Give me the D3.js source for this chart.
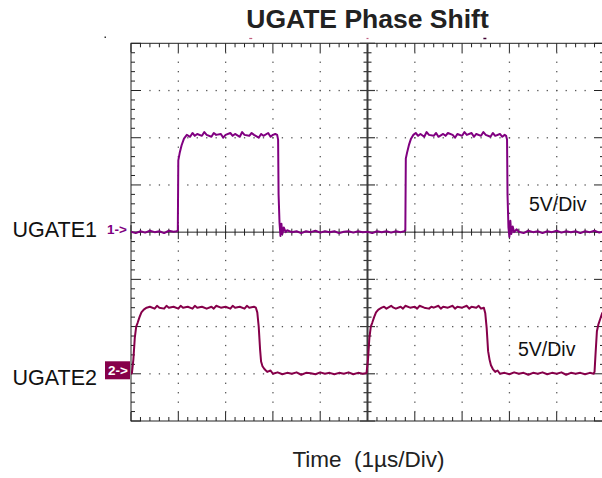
<!DOCTYPE html>
<html><head><meta charset="utf-8">
<script src="https://cdn.jsdelivr.net/npm/d3@7"></script>
<style>html,body{margin:0;padding:0;background:#fff;}svg{display:block;}</style>
</head><body>
<svg id="chart" width="602" height="478"></svg>
<script>
// ---- data ----
const title = "UGATE Phase Shift";
const xLabel = "Time\u00A0 (1\u00B5s/Div)";
const channelNames = ["UGATE1", "UGATE2"];
const channelMarkers = ["1->", "2->"];
const scaleLabels = ["5V/Div", "5V/Div"];
const voltsPerDiv = 5;
const channelOffsetsDiv = [0, -3];      // ground reference of each channel, in divisions from centre
const timeDivs = [0, 10];               // µs
const voltDivs = [-4, 4];               // divisions
// UGATE1 trace: [time µs, volts]
const ch1 = [
 [0,0.05],[0.1,-0.1],[0.2,0.1],[0.3,-0.05],[0.4,0.15],[0.5,0],[0.6,0.1],[0.7,-0.1],[0.8,0.15],[0.9,0.05],[0.97,0.1],
 [0.99,0.2],[1.0,7.6],[1.03,8.4],[1.07,9.2],[1.12,9.9],[1.18,10.3],
 [1.25,10.1],[1.3,10.5],[1.35,10.2],[1.4,10.4],[1.5,10.2],[1.55,10.6],[1.6,10.3],[1.7,10.1],[1.75,10.5],[1.8,10.3],[1.9,10.4],[1.95,10.0],[2.0,10.3],[2.1,10.5],[2.15,10.2],[2.2,10.4],[2.3,10.1],[2.35,10.6],[2.4,10.3],[2.5,10.2],[2.55,10.5],[2.6,10.3],[2.7,10.0],[2.75,10.4],[2.8,10.2],[2.9,10.5],[2.95,10.1],[3.0,10.3],[3.05,10.4],[3.09,10.3],
 [3.11,9.8],[3.12,4.0],[3.14,1.0],[3.16,-0.4],[3.18,0.9],[3.2,-0.2],[3.23,0.5],[3.27,0.0],[3.3,0.2],
 [3.4,0.0],[3.5,0.1],[3.6,-0.1],[3.7,0.1],[3.8,0.0],[3.9,0.15],[4.0,-0.05],[4.1,0.1],[4.2,0.0],[4.3,0.1],[4.4,-0.1],[4.5,0.05],[4.6,0.1],[4.7,-0.05],[4.8,0.1],[4.9,0.0],[5.0,0.05],[5.1,-0.1],[5.2,0.1],[5.3,0.0],[5.4,0.1],[5.5,-0.05],[5.6,0.1],[5.7,0.0],[5.78,0.1],
 [5.8,0.2],[5.81,7.8],[5.84,8.5],[5.88,9.3],[5.92,9.9],[5.97,10.3],
 [6.02,10.5],[6.07,10.2],[6.12,10.4],[6.2,10.1],[6.25,10.6],[6.3,10.3],[6.4,10.2],[6.45,10.5],[6.5,10.1],[6.6,10.4],[6.65,10.2],[6.7,10.5],[6.8,10.3],[6.85,10.0],[6.9,10.4],[7.0,10.2],[7.05,10.6],[7.1,10.3],[7.2,10.5],[7.25,10.1],[7.3,10.4],[7.4,10.2],[7.45,10.6],[7.5,10.3],[7.6,10.1],[7.65,10.5],[7.7,10.2],[7.8,10.4],[7.85,10.1],[7.9,10.3],[7.93,10.2],
 [7.95,9.8],[7.96,4.0],[7.98,0.5],[8.0,-0.5],[8.02,1.2],[8.04,-0.2],[8.07,0.6],[8.1,0.0],[8.15,0.3],
 [8.2,0.05],[8.3,-0.1],[8.4,0.15],[8.5,0.0],[8.6,0.1],[8.7,-0.1],[8.8,0.1],[8.9,0.0],[9.0,0.15],[9.1,-0.05],[9.2,0.1],[9.3,0.0],[9.4,0.1],[9.5,-0.1],[9.6,0.1],[9.7,0.0],[9.8,0.15],[9.9,-0.05],[10,0.1]
];
// UGATE2 trace: [time µs, volts]
const ch2 = [
 [0,-0.05],[0.02,0.1],[0.05,1.5],[0.08,3.8],[0.11,5.0],[0.14,5.4],[0.18,6.0],[0.22,6.5],[0.27,6.8],[0.33,7.0],
 [0.4,7.1],[0.5,6.9],[0.55,7.2],[0.6,7.0],[0.7,6.9],[0.75,7.2],[0.8,7.0],[0.9,7.1],[1.0,6.9],[1.05,7.2],[1.1,7.0],[1.2,7.1],[1.3,6.9],[1.35,7.2],[1.4,7.0],[1.5,7.1],[1.6,6.9],[1.7,7.1],[1.75,6.9],[1.8,7.2],[1.9,7.0],[2.0,7.1],[2.1,6.9],[2.15,7.2],[2.2,7.0],[2.3,7.1],[2.4,6.9],[2.45,7.2],[2.5,7.0],[2.6,7.1],[2.64,7.0],
 [2.67,6.5],[2.7,5.0],[2.73,2.5],[2.75,1.3],[2.78,0.8],[2.82,0.5],[2.88,0.2],[2.95,0.35],[3.0,0.0],
 [3.1,0.15],[3.2,-0.05],[3.3,0.1],[3.4,0.0],[3.5,0.15],[3.6,-0.1],[3.7,0.1],[3.8,0.05],[3.9,-0.05],[4.0,0.15],[4.1,0.0],[4.2,0.1],[4.3,-0.05],[4.4,0.1],[4.5,0.0],[4.6,0.15],[4.7,-0.05],[4.8,0.1],[4.9,0.0],[4.96,0.05],
 [4.98,0.1],[5.01,1.5],[5.04,3.8],[5.07,5.0],[5.1,5.4],[5.14,6.0],[5.18,6.5],[5.23,6.8],[5.3,7.0],
 [5.35,7.1],[5.4,6.9],[5.5,7.2],[5.55,7.0],[5.6,6.9],[5.7,7.1],[5.75,6.9],[5.8,7.2],[5.9,7.0],[6.0,7.1],[6.05,6.9],[6.1,7.2],[6.2,7.0],[6.3,6.9],[6.35,7.1],[6.4,7.0],[6.5,7.2],[6.55,6.9],[6.6,7.1],[6.7,7.0],[6.8,7.2],[6.85,6.9],[6.9,7.1],[7.0,7.0],[7.1,7.2],[7.15,6.9],[7.2,7.1],[7.3,7.0],[7.35,7.2],[7.4,6.9],[7.46,7.0],
 [7.49,6.4],[7.52,4.8],[7.55,2.4],[7.58,1.5],[7.61,0.9],[7.65,0.5],[7.7,0.2],[7.75,0.35],[7.8,0.0],
 [7.9,0.1],[8.0,-0.05],[8.1,0.15],[8.2,0.0],[8.3,0.1],[8.4,-0.1],[8.5,0.1],[8.6,0.0],[8.7,0.15],[8.8,-0.05],[8.9,0.1],[9.0,0.0],[9.1,0.15],[9.2,-0.1],[9.3,0.1],[9.4,0.0],[9.5,0.1],[9.6,-0.05],[9.7,0.1],[9.78,0.0],
 [9.8,0.2],[9.82,2.0],[9.85,4.5],[9.88,5.2],[9.92,5.8],[9.96,6.4],[10,6.7]
];

// ---- drawing ----
const svg = d3.select("#chart");
const FONT = "'Liberation Sans', Arial, Helvetica, sans-serif";
const x = d3.scaleLinear().domain(timeDivs).range([131, 604]);
const y = d3.scaleLinear().domain(voltDivs).range([421, 43.3]);
const colors = ["#800080", "#86004a"];
const gridCol = "#555";

const minorT = d3.range(timeDivs[0], timeDivs[1] + 0.001, 0.2).map(v => +v.toFixed(2));
const minorV = d3.range(voltDivs[0], voltDivs[1] + 0.001, 0.2).map(v => +v.toFixed(2));
const isMajor = v => Math.abs(v - Math.round(v)) < 1e-6;

const g = svg.append("g");

// dotted grid
const dots = g.append("g").attr("fill", gridCol);
d3.range(1, 10).filter(t => t !== 5).forEach(t => {
  minorV.filter(v => v > voltDivs[0] && v < voltDivs[1]).forEach(v => {
    dots.append("rect").attr("x", x(t) - 0.6).attr("y", y(v) - 0.6).attr("width", 1.3).attr("height", 1.3);
  });
});
d3.range(-3, 4).filter(v => v !== 0).forEach(v => {
  minorT.filter(t => t > 0.3 && t < 9.8).forEach(t => {
    dots.append("rect").attr("x", x(t) - 0.6).attr("y", y(v) - 0.6).attr("width", 1.3).attr("height", 1.3);
  });
});

// border
const frame = g.append("g").attr("stroke", "#222").attr("stroke-width", 1).attr("fill", "none");
frame.append("rect").attr("x", x(0)).attr("y", y(4)).attr("width", x(10) - x(0)).attr("height", y(-4) - y(4));
minorT.forEach(t => {
  const L = isMajor(t) ? 9 : 4;
  frame.append("line").attr("x1", x(t)).attr("x2", x(t)).attr("y1", y(4)).attr("y2", y(4) + L);
  frame.append("line").attr("x1", x(t)).attr("x2", x(t)).attr("y1", y(-4)).attr("y2", y(-4) - L);
});
minorV.forEach(v => {
  const L = isMajor(v) ? 10 : 4;
  frame.append("line").attr("x1", x(0)).attr("x2", x(0) + L).attr("y1", y(v)).attr("y2", y(v));
  frame.append("line").attr("x1", x(10)).attr("x2", x(10) - L).attr("y1", y(v)).attr("y2", y(v));
});

// centre axes
const cx = g.append("g").attr("fill", "none");
cx.append("line").attr("x1", x(0)).attr("x2", x(10)).attr("y1", y(0)).attr("y2", y(0)).attr("stroke", "#222");
minorT.forEach(t => {
  const L = isMajor(t) ? 7 : 3.5;
  cx.append("line").attr("x1", x(t)).attr("x2", x(t)).attr("y1", y(0) - L).attr("y2", y(0) + L).attr("stroke", "#222");
});
cx.append("line").attr("x1", x(5)).attr("x2", x(5)).attr("y1", y(4)).attr("y2", y(-4)).attr("stroke", "#3a3a3a").attr("stroke-width", 2);
minorV.forEach(v => {
  const L = isMajor(v) ? 7.5 : 4;
  cx.append("line").attr("x1", x(5) - L).attr("x2", x(5) + L).attr("y1", y(v)).attr("y2", y(v)).attr("stroke", "#3a3a3a").attr("stroke-width", 1.2);
});

// traces
svg.append("clipPath").attr("id", "plotclip").append("rect")
  .attr("x", x(0)).attr("y", y(4)).attr("width", x(10) - x(0)).attr("height", y(-4) - y(4));
[ch1, ch2].forEach((data, i) => {
  const line = d3.line()
    .x(d => x(d[0]))
    .y(d => y(d[1] / voltsPerDiv + channelOffsetsDiv[i]));
  svg.append("path").datum(data)
    .attr("clip-path", "url(#plotclip)")
    .attr("d", line).attr("fill", "none")
    .attr("stroke", colors[i]).attr("stroke-width", 2)
    .attr("stroke-linejoin", "round");
});

// trigger markers above the grid
svg.append("rect").attr("x", 104.5).attr("y", 36.5).attr("width", 1.5).attr("height", 1.5).attr("fill", "#333");
svg.append("line").attr("x1", x(2.5)).attr("x2", x(2.5) + 3).attr("y1", 38.5).attr("y2", 38.5).attr("stroke", "#c06080").attr("stroke-width", 1.2);
svg.append("line").attr("x1", x(5) - 1).attr("x2", x(5) + 1).attr("y1", 38.5).attr("y2", 38.5).attr("stroke", "#c06080").attr("stroke-width", 1.2);
svg.append("line").attr("x1", x(7.45)).attr("x2", x(7.45) + 3).attr("y1", 38.5).attr("y2", 38.5).attr("stroke", "#400030").attr("stroke-width", 1.5);

// channel labels and markers
const gy = channelOffsetsDiv.map(o => y(o));
channelNames.forEach((name, i) => {
  svg.append("text").attr("x", 97).attr("y", gy[i] + (i === 0 ? 4.5 : 11))
    .attr("text-anchor", "end").attr("font-family", FONT).attr("font-size", 21.5)
    .attr("fill", "#111").text(name);
});
svg.append("text").attr("x", 107).attr("y", gy[0] + 1.5)
  .attr("font-family", FONT).attr("font-size", 13.5).attr("font-weight", "bold")
  .attr("fill", colors[0]).text(channelMarkers[0]);
svg.append("rect").attr("x", 105).attr("y", gy[1] - 12.5).attr("width", 25).attr("height", 18).attr("fill", colors[1]);
svg.append("text").attr("x", 108).attr("y", gy[1] + 1.5)
  .attr("font-family", FONT).attr("font-size", 13.5).attr("font-weight", "bold")
  .attr("fill", "#fff").text(channelMarkers[1]);

// V/Div labels
svg.append("text").attr("x", 529).attr("y", 210.5).attr("font-family", FONT).attr("font-size", 19.5).attr("fill", "#111").text(scaleLabels[0]);
svg.append("text").attr("x", 518).attr("y", 355.5).attr("font-family", FONT).attr("font-size", 19.5).attr("fill", "#111").text(scaleLabels[1]);

// title and x label
svg.append("text").attr("x", x(5)).attr("y", 28).attr("text-anchor", "middle")
  .attr("font-family", FONT).attr("font-size", 26.5).attr("font-weight", "bold").attr("fill", "#222").text(title);
svg.append("text").attr("x", x(5) + 1).attr("y", 466.5).attr("text-anchor", "middle")
  .attr("font-family", FONT).attr("font-size", 22.5).attr("fill", "#222").text(xLabel);
</script>
</body></html>
